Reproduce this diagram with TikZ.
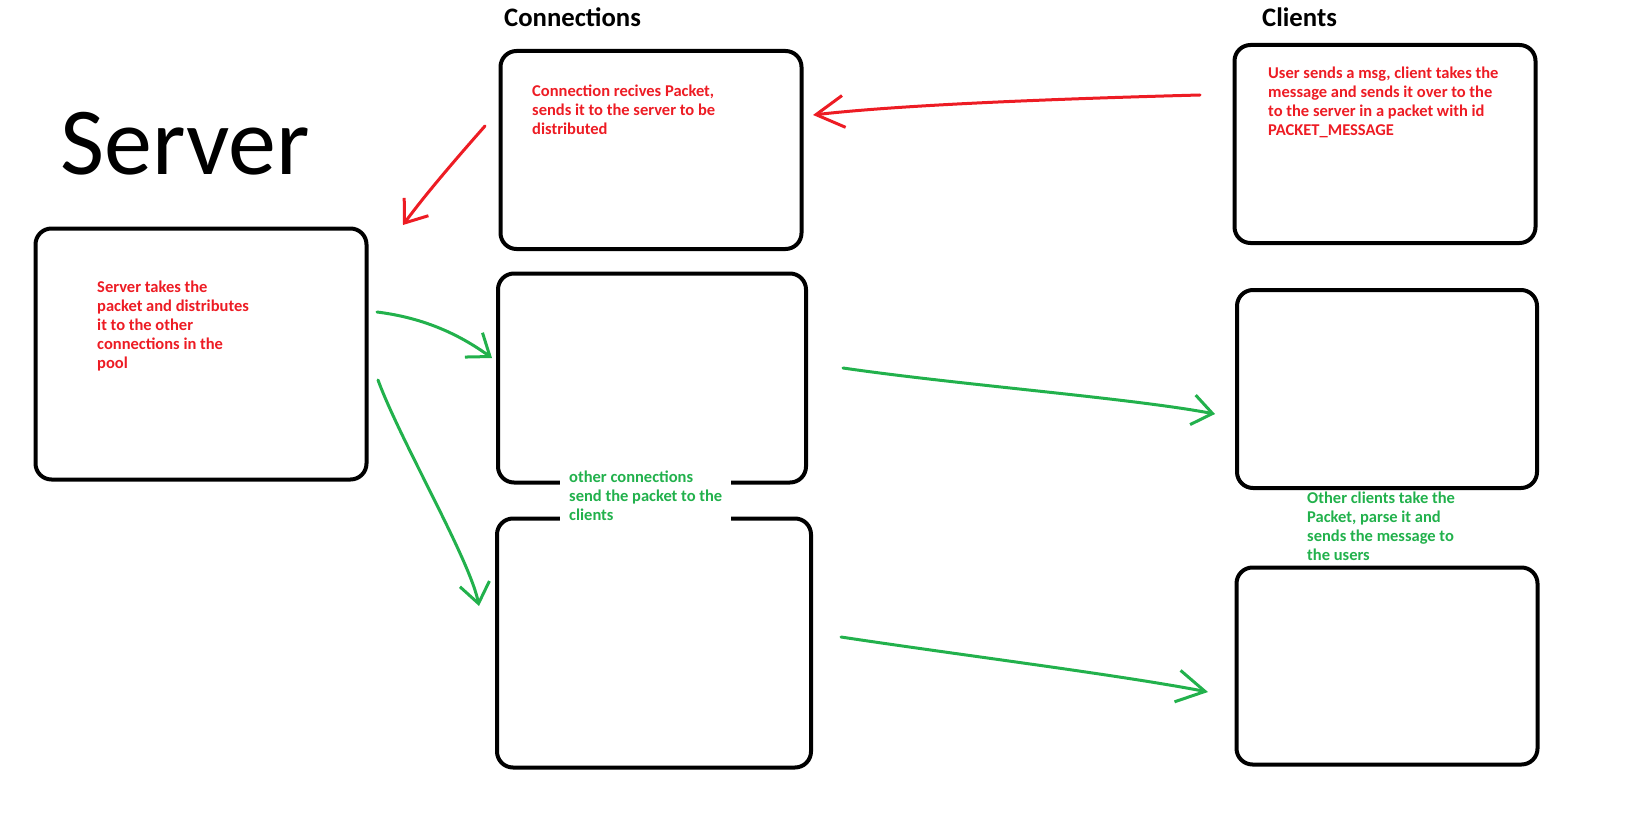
\documentclass[tikz,border=0pt]{standalone}
\usepackage{fontspec}
\newfontfamily\carlito{Carlito}
\usetikzlibrary{arrows.meta}
\definecolor{paintred}{HTML}{ED1C24}
\definecolor{paintgreen}{HTML}{22B14C}
\begin{document}
\begin{tikzpicture}[x=1pt,y=-1pt,
    box/.style={draw,line width=4pt,rounded corners=16pt,inner sep=0pt},
    note/.style={anchor=north west,inner sep=0pt,align=left,font=\carlito\bfseries\fontsize{16.5}{19}\selectfont},
    title/.style={anchor=base west,inner sep=0pt},
    pen/.style={line width=3pt,line cap=round,-{Straight Barb[length=20pt,width=30pt]}},
    longtip/.style={-{Straight Barb[length=28pt,width=32pt]}}]
    \useasboundingbox (0,0) rectangle (1645,829);
    % the boxes
    \node[box,minimum width=331pt,minimum height=251pt] (server) at (201,354) {};
    \node[box,minimum width=301pt,minimum height=198pt] (conn1) at (651,150) {};
    \node[box,minimum width=308pt,minimum height=209pt] (conn2) at (652,378) {};
    \node[box,minimum width=314pt,minimum height=249pt] (conn3) at (654,643) {};
    \node[box,minimum width=301pt,minimum height=198pt] (client1) at (1385,144) {};
    \node[box,minimum width=300pt,minimum height=198pt] (client2) at (1387,389) {};
    \node[box,minimum width=301pt,minimum height=197pt] (client3) at (1387,666) {};
    % titles
    \node[title,font=\carlito\fontsize{96}{96}\selectfont] (servertitle) at (60,175) {Server};
    \node[title,font=\carlito\bfseries\fontsize{26.7}{32}\selectfont] (conntitle) at (504,27) {Connections};
    \node[title,font=\carlito\bfseries\fontsize{26.7}{32}\selectfont] (clienttitle) at (1262,27) {Clients};
    % notes
    \node[note,text=paintred] (conn1txt) at (532,85) {Connection recives Packet,\\sends it to the server to be\\distributed};
    \node[note,text=paintred] (client1txt) at (1268,67) {User sends a msg, client takes the\\message and sends it over to the\\to the server in a packet with id\\PACKET\_MESSAGE};
    \node[note,text=paintred] (servertxt) at (97,281) {Server takes the\\packet and distributes\\it to the other\\connections in the\\pool};
    \node[note,text=paintgreen,fill=white,inner xsep=9pt,inner ysep=3pt] (conn2txt) at (560,468) {other connections\\send the packet to the\\clients};
    \node[note,text=paintgreen] (client2txt) at (1307,492) {Other clients take the\\Packet, parse it and\\sends the message to\\the users};
    % arrow ends
    \coordinate (r1a) at (1200,95);  \coordinate (r1b) at (813,115);
    \coordinate (r2a) at (485,126);  \coordinate (r2b) at (403,225);
    \coordinate (g1a) at (377,312);  \coordinate (g1b) at (492,358);
    \coordinate (g2a) at (378,380);  \coordinate (g2b) at (479,606);
    \coordinate (g3a) at (843,368);  \coordinate (g3b) at (1215,414);
    \coordinate (g4a) at (841,637);  \coordinate (g4b) at (1208,692);
    \draw[pen,longtip,paintred] (r1a) .. controls (1050,99) and (900,105) .. (r1b);
    \draw[pen,paintred] (r2a) .. controls (455,160) and (425,195) .. (r2b);
    \draw[pen,paintgreen] (g1a) .. controls (425,318) and (460,335) .. (g1b);
    \draw[pen,paintgreen] (g2a) .. controls (400,440) and (470,560) .. (g2b);
    \draw[pen,paintgreen] (g3a) .. controls (960,385) and (1130,398) .. (g3b);
    \draw[pen,longtip,paintgreen] (g4a) .. controls (960,655) and (1120,675) .. (g4b);
\end{tikzpicture}
\end{document}
